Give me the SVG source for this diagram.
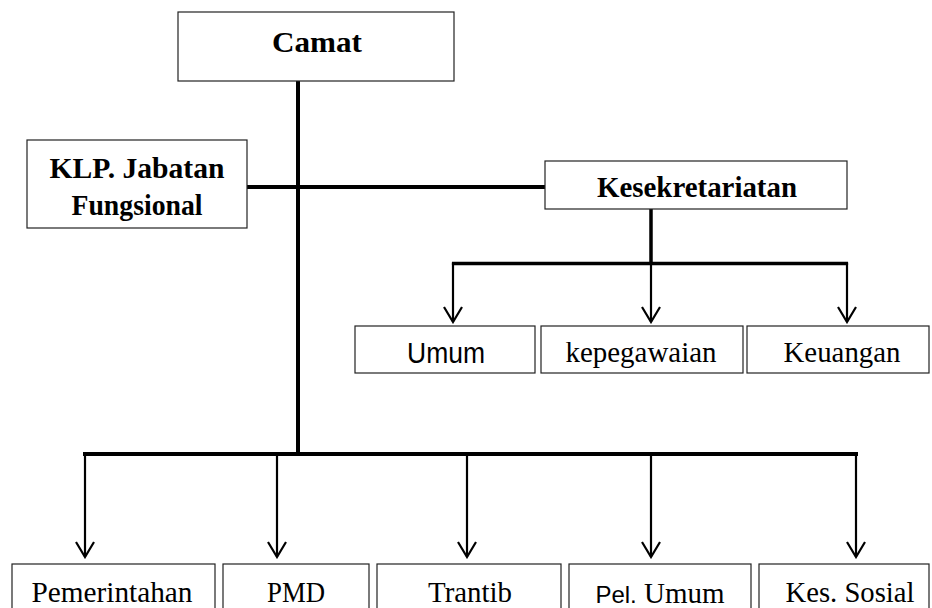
<svg xmlns="http://www.w3.org/2000/svg" width="932" height="608" viewBox="0 0 932 608">
<style>
.box{fill:#fff;stroke:#222;stroke-width:1.2}
.t{font-family:"Liberation Serif","Times New Roman",serif;font-size:29px;fill:#000;text-anchor:middle}
.b{font-weight:bold}
.s{font-family:"Liberation Sans",Arial,sans-serif}
.thick{stroke:#000;stroke-width:4;fill:none}
.mid{stroke:#000;stroke-width:3.5;fill:none}
.thin{stroke:#000;stroke-width:2.2;fill:none}
</style>
<defs>
<marker id="arr" viewBox="0 0 20 18" refX="10" refY="16" markerWidth="20" markerHeight="18" markerUnits="userSpaceOnUse" orient="0">
<path d="M1,1 L10,16 L19,1" fill="none" stroke="#000" stroke-width="2.2"/>
</marker>
<clipPath id="row2"><rect x="340" y="326" width="592" height="42"/></clipPath>
</defs>
<rect width="932" height="608" fill="#fff"/>
<g id="connectors">
<line class="thick" x1="298" y1="81" x2="298" y2="456"/>
<line class="thick" x1="247" y1="187" x2="545" y2="187"/>
<line class="mid" x1="651" y1="209" x2="651" y2="265"/>
<line class="mid" x1="451.9" y1="263.5" x2="848.1" y2="263.5"/>
<line class="thin" x1="453" y1="263" x2="453" y2="322" marker-end="url(#arr)"/>
<line class="thin" x1="651" y1="263" x2="651" y2="322" marker-end="url(#arr)"/>
<line class="thin" x1="847" y1="263" x2="847" y2="322" marker-end="url(#arr)"/>
<line class="thick" x1="83" y1="454" x2="858" y2="454"/>
<line class="thin" x1="85" y1="454" x2="85" y2="557" marker-end="url(#arr)"/>
<line class="thin" x1="277" y1="454" x2="277" y2="557" marker-end="url(#arr)"/>
<line class="thin" x1="467" y1="454" x2="467" y2="557" marker-end="url(#arr)"/>
<line class="thin" x1="651" y1="454" x2="651" y2="557" marker-end="url(#arr)"/>
<line class="thin" x1="856" y1="454" x2="856" y2="557" marker-end="url(#arr)"/>
</g>
<g id="camat">
<rect class="box" x="178" y="12" width="276" height="69"/>
<text class="t b" x="317" y="52" font-size="31" textLength="90" lengthAdjust="spacingAndGlyphs">Camat</text>
</g>
<g id="klp">
<rect class="box" x="27" y="140" width="220" height="88"/>
<text class="t b" x="137" y="178" textLength="175" lengthAdjust="spacingAndGlyphs">KLP. Jabatan</text>
<text class="t b" x="137" y="215" textLength="131" lengthAdjust="spacingAndGlyphs">Fungsional</text>
</g>
<g id="kesekretariatan">
<rect class="box" x="545" y="161" width="302" height="48"/>
<text class="t b" x="697" y="197" textLength="200" lengthAdjust="spacingAndGlyphs">Kesekretariatan</text>
</g>
<g id="umum">
<rect class="box" x="355" y="326" width="180" height="47"/>
<text class="t s" x="446" y="363" font-size="25" textLength="78" lengthAdjust="spacingAndGlyphs">Umum</text>
</g>
<g id="kepegawaian">
<rect class="box" x="541" y="326" width="202" height="47"/>
<text class="t" x="641" y="362" clip-path="url(#row2)" textLength="151" lengthAdjust="spacingAndGlyphs">kepegawaian</text>
</g>
<g id="keuangan">
<rect class="box" x="747" y="326" width="182" height="47"/>
<text class="t" x="842" y="362" clip-path="url(#row2)" textLength="117" lengthAdjust="spacingAndGlyphs">Keuangan</text>
</g>
<g id="pemerintahan">
<rect class="box" x="12" y="564" width="203" height="60"/>
<text class="t" x="112" y="602" textLength="161" lengthAdjust="spacingAndGlyphs">Pemerintahan</text>
</g>
<g id="pmd">
<rect class="box" x="223" y="564" width="146" height="60"/>
<text class="t" x="296" y="602" textLength="58" lengthAdjust="spacingAndGlyphs">PMD</text>
</g>
<g id="trantib">
<rect class="box" x="377" y="564" width="184" height="60"/>
<text class="t" x="470" y="602" textLength="84" lengthAdjust="spacingAndGlyphs">Trantib</text>
</g>
<g id="pelumum">
<rect class="box" x="569" y="564" width="182" height="60"/>
<text class="t" x="660" y="603"><tspan class="s" font-size="24">Pel.</tspan> Umum</text>
</g>
<g id="kessosial">
<rect class="box" x="759" y="564" width="170" height="60"/>
<text class="t" x="850" y="602" textLength="129" lengthAdjust="spacingAndGlyphs">Kes. Sosial</text>
</g>
</svg>
